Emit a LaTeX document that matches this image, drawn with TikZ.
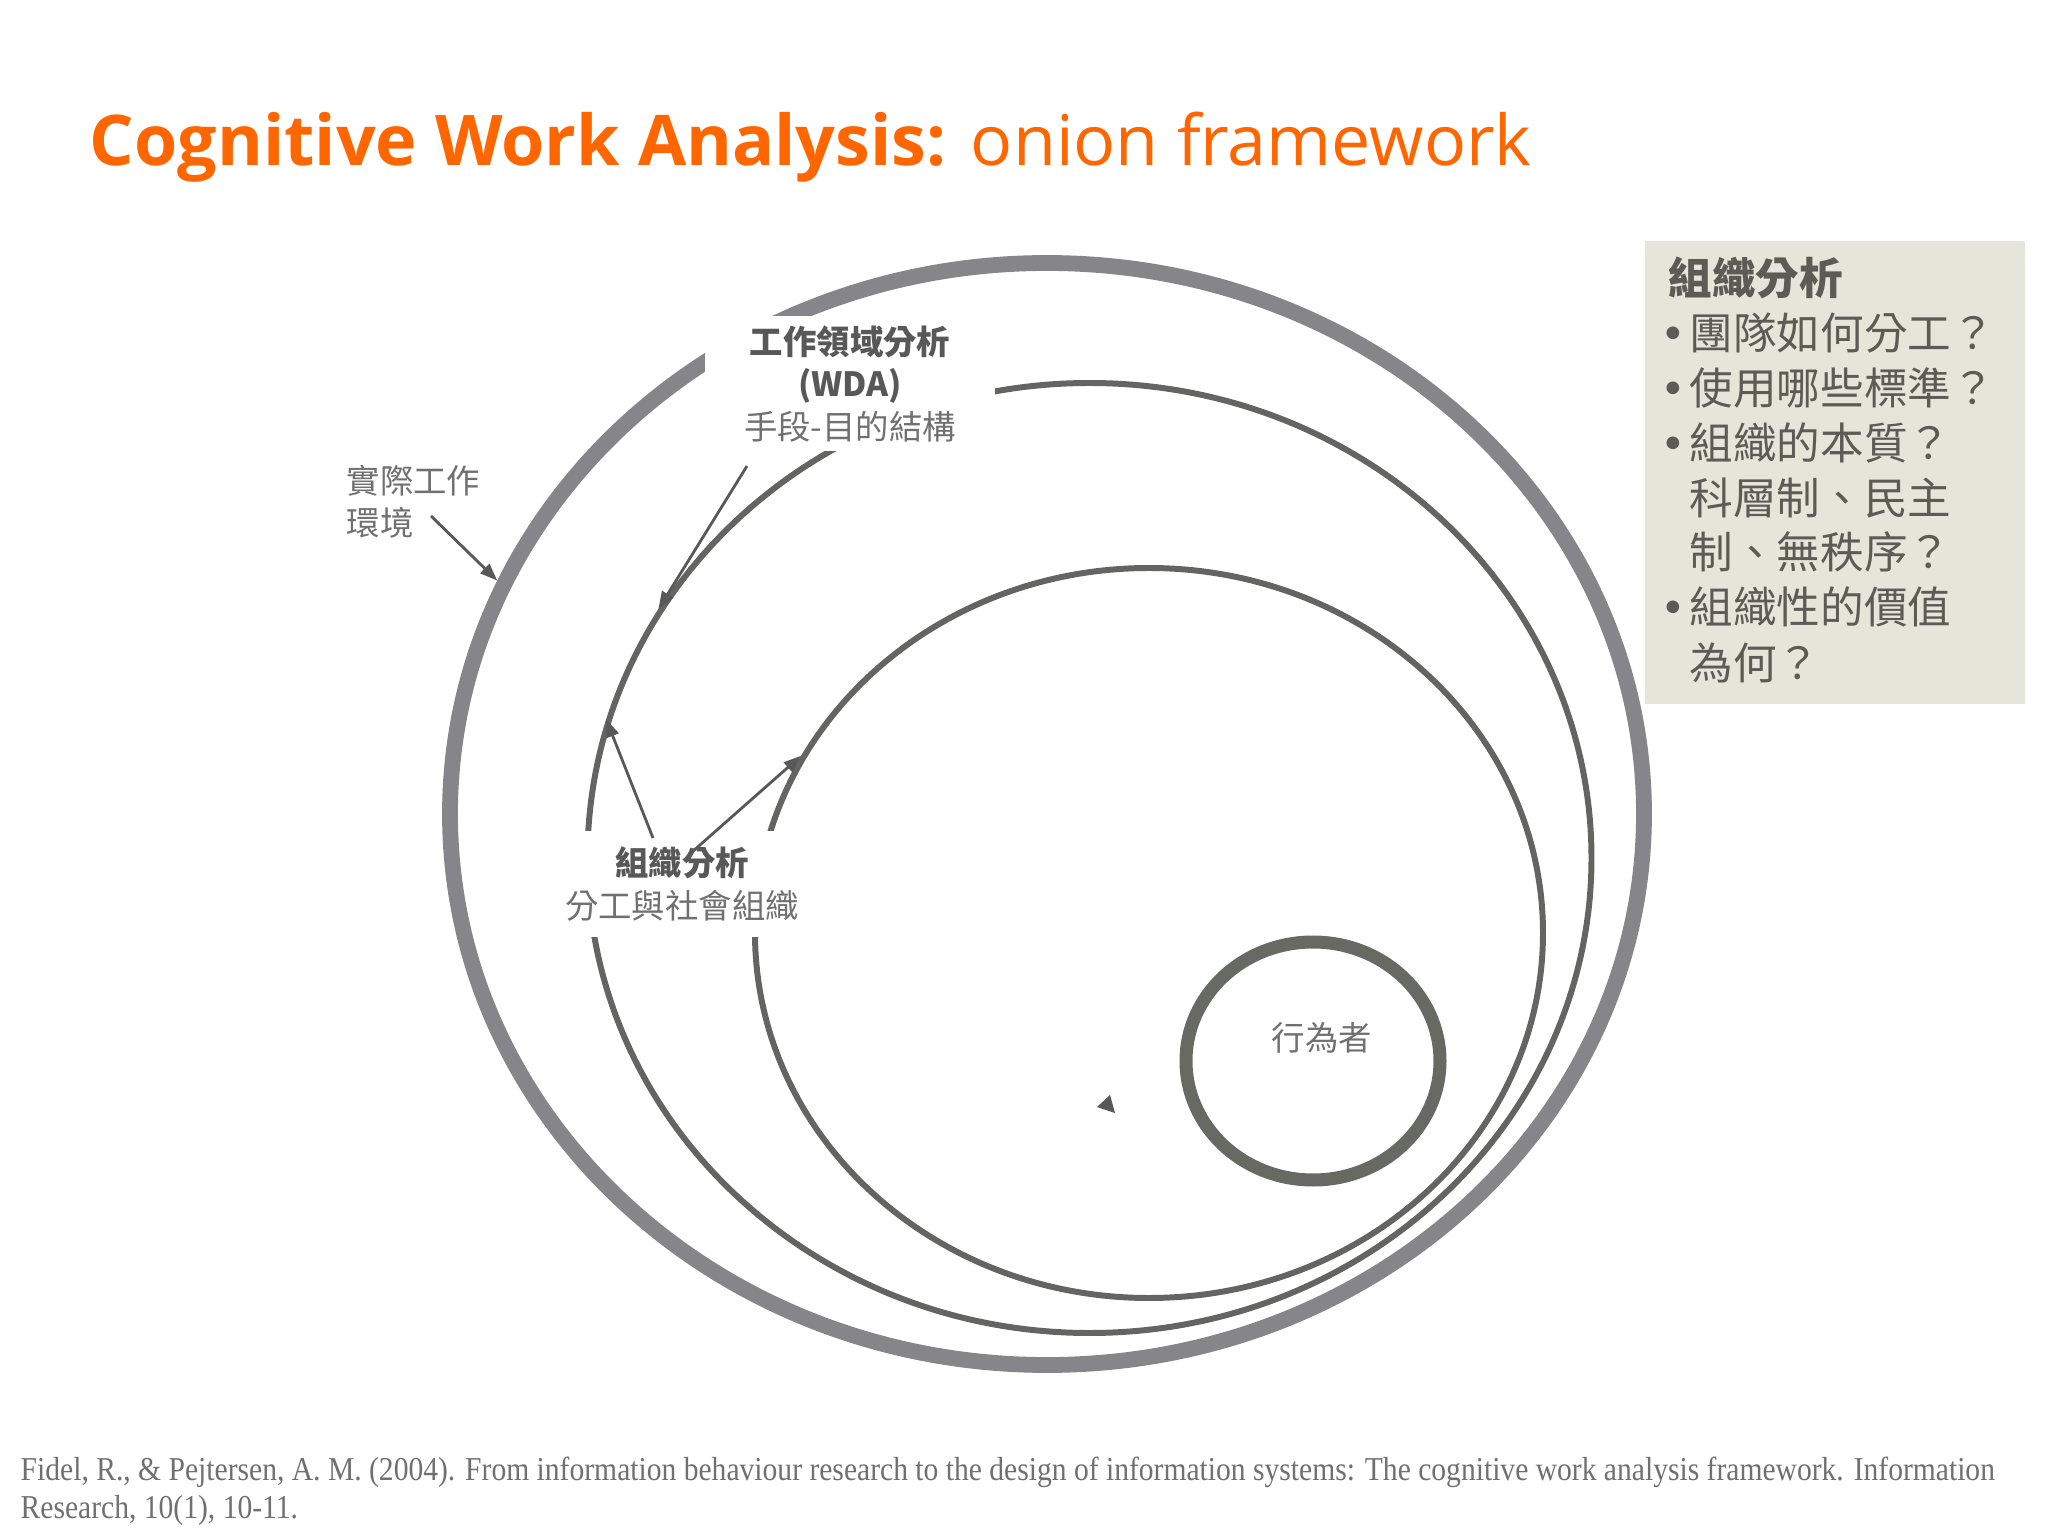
\documentclass[tikz,border=0pt]{standalone}
\usepackage{fontspec}
\usepackage{xcolor}
\usepackage{tikz}
\usetikzlibrary{shapes.geometric, arrows.meta, positioning, calc}
\setmainfont{Open Sans}
\newfontfamily\cjk{Noto Sans CJK TC}
\newfontfamily\bulfont{DejaVu Sans}
\newfontfamily\citefont[FakeStretch=0.886]{Liberation Serif}
\definecolor{cwaorange}{RGB}{255,102,0}
\definecolor{envgray}{RGB}{134,133,138}
\definecolor{ringgray}{RGB}{100,101,98}
\definecolor{actorgray}{RGB}{103,105,99}
\definecolor{lbldark}{RGB}{88,88,88}
\definecolor{lbllight}{RGB}{112,112,112}
\definecolor{panelbg}{RGB}{229,229,218}
\definecolor{paneltext}{RGB}{92,92,84}
\definecolor{citegray}{RGB}{112,112,112}

\tikzset{
  ring/.style={ellipse, draw=ringgray, line width=1.7pt, inner sep=0pt},
  lbl/.style={font=\cjk\fontsize{9.5}{12}\selectfont, text=lbllight, align=center},
  masklbl/.style={lbl, fill=white, inner sep=0pt},
  pointer/.style={draw=lbldark, line width=0.8pt, -{Triangle[length=5pt,width=3.6pt]}},
  panelline/.style={anchor=base west, font=\cjk\fontsize{12.4}{15}\selectfont, text=paneltext, inner sep=0pt}
}

\begin{document}
\begin{tikzpicture}
  \useasboundingbox (0,0) rectangle (20.48,-15.36);
  % title
  \node[anchor=base west, inner sep=0pt, text=cwaorange, font=\fontsize{19.9}{24}\selectfont] (title) at (0.89,-1.66) {\textbf{Cognitive Work Analysis:} onion framework};

  % onion rings, outside in
  \node[ring, draw=envgray, line width=4.5pt, minimum width=11.94cm, minimum height=11.02cm] (envring) at (10.47,-8.14) {};
  \node[ring, minimum width=10.04cm, minimum height=9.50cm] (wdaring) at (10.895,-8.58) {};
  \node[ring, minimum width=7.88cm, minimum height=7.30cm] (orgring) at (11.49,-9.33) {};
  \node[ring, draw=actorgray, line width=3.7pt, minimum width=2.54cm, minimum height=2.38cm] (actorring) at (13.13,-10.61) {};

  % labels (white boxes cut the rings)
  \node[masklbl, minimum width=2.9cm, minimum height=1.35cm] (wdalbl) at (8.50,-3.84)
    {\textcolor{lbldark}{\bfseries 工作領域分析}\\\textcolor{lbldark}{\bfseries (WDA)}\\手段-目的結構};
  \node[masklbl, minimum width=2.45cm, minimum height=1.05cm] (orglbl) at (6.82,-8.84)
    {\textcolor{lbldark}{\bfseries 組織分析}\\分工與社會組織};
  \node[lbl, align=left, anchor=west, inner sep=0pt] (envlbl) at (3.46,-5.015) {實際工作\\環境};
  \node[lbl] (actorlbl) at (13.22,-10.38) {行為者};

  % pointers
  \coordinate (envtail) at (4.31,-5.16);
  \coordinate (wdatail) at (7.47,-4.66);
  \coordinate (orgtaila) at (6.53,-8.38);
  \coordinate (orgtailb) at (6.92,-8.52);
  \draw[pointer] (envtail) -- (envring.157);
  \draw[pointer] (wdatail) -- (wdaring.150);
  \draw[pointer] (orgtaila) -- (wdaring.164);
  \draw[pointer] (orgtailb) -- (orgring.153);
  \fill[lbldark] (10.97,-11.07) -- (11.10,-10.95) -- (11.15,-11.13) -- cycle;

  % side panel
  \node[anchor=north west, fill=panelbg, minimum width=3.80cm, minimum height=4.63cm, inner sep=0pt] (panel) at (16.44,-2.40) {};
  \node[panelline, font=\cjk\bfseries\fontsize{12.4}{15}\selectfont] (panelhead) at (16.68,-2.95) {組織分析};
  \foreach \txt/\yy/\bul/\idx in {
    團隊如何分工？/3.50/1/1,
    使用哪些標準？/4.05/1/2,
    組織的本質？/4.60/1/3,
    科層制、民主/5.15/0/4,
    制、無秩序？/5.69/0/5,
    組織性的價值/6.24/1/6,
    為何？/6.79/0/7
  }{
    \node[panelline] (pl\idx) at (16.89,-\yy) {\txt};
    \ifnum\bul=1 \node[panelline, anchor=base east, font=\bulfont\fontsize{12.4}{15}\selectfont] (pb\idx) at (16.87,-\yy) {•}; \fi
  }

  % reference
  \node[anchor=north west, inner sep=0pt, align=left, text=citegray, font=\citefont\fontsize{9.5}{10.8}\selectfont] (cite) at (0.20,-14.56)
    {Fidel, R., \& Pejtersen, A. M. (2004). From information behaviour research to the design of information systems: The cognitive work analysis framework. Information\\Research, 10(1), 10-11.};
\end{tikzpicture}
\end{document}
